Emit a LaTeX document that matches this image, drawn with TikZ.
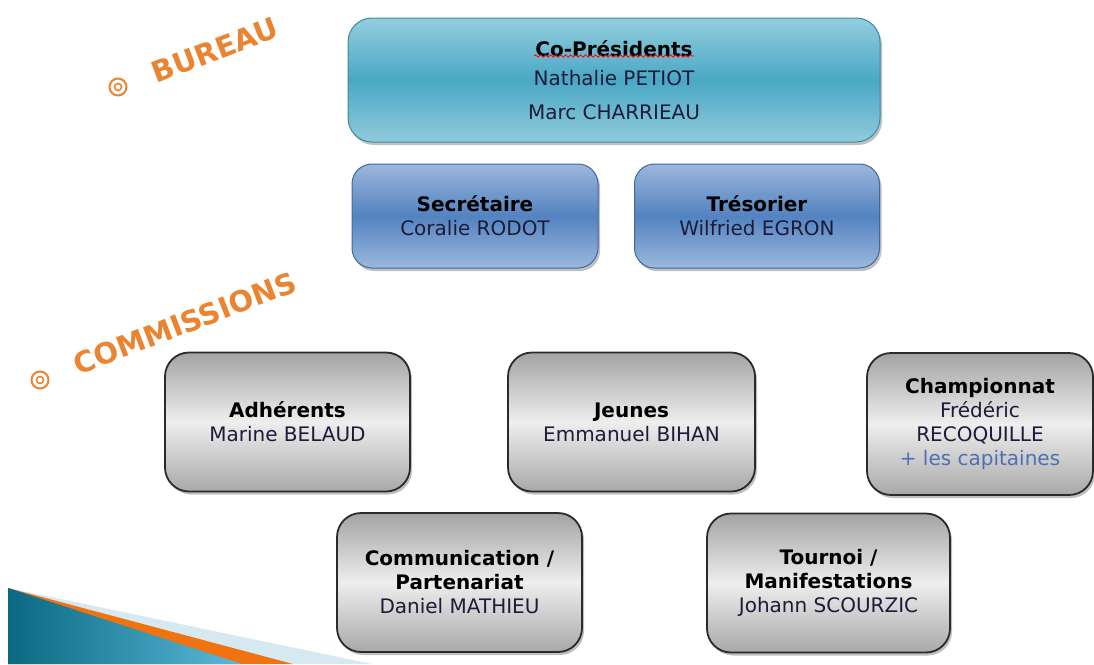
\documentclass[tikz,border=0pt]{standalone}
\usepackage{fontspec}
\setmainfont{DejaVu Sans}
\usetikzlibrary{shadows,decorations.pathmorphing}
\definecolor{cptop}{HTML}{93CDDE}
\definecolor{cpmid}{HTML}{4AA8C4}
\definecolor{cpbot}{HTML}{90CADB}
\definecolor{cpline}{HTML}{3A8AA3}
\definecolor{sbtop}{HTML}{9BB7DD}
\definecolor{sbmid}{HTML}{5383C0}
\definecolor{sbbot}{HTML}{9CB8DD}
\definecolor{sbline}{HTML}{3F67A0}
\definecolor{gtop}{HTML}{A3A3A3}
\definecolor{gmid}{HTML}{EEEEEE}
\definecolor{gbot}{HTML}{A8A8A8}
\definecolor{gline}{HTML}{2A2A2A}
\definecolor{namec}{HTML}{1C1C3A}
\definecolor{capc}{HTML}{4F6FB5}
\definecolor{orangec}{HTML}{EA8431}
\definecolor{decoteal}{HTML}{0A6882}
\definecolor{decoteall}{HTML}{5BBAD9}
\definecolor{decoorange}{HTML}{F07310}
\definecolor{decolight}{HTML}{D6E9F1}
\begin{document}
\begin{tikzpicture}[x=1pt,y=-1pt,
  box/.style={rounded corners=24pt, align=center, inner sep=0pt,
    font=\fontsize{20}{24}\selectfont,
    drop shadow={shadow xshift=2pt, shadow yshift=-3pt, opacity=0.5}},
  cpbox/.style={box, draw=cpline, line width=1pt, top color=cptop, bottom color=cpbot, middle color=cpmid},
  sbbox/.style={box, rounded corners=20pt, draw=sbline, line width=1pt, top color=sbtop, bottom color=sbbot, middle color=sbmid,
    minimum width=246pt, minimum height=104pt},
  graybox/.style={box, draw=gline, line width=1.8pt, top color=gtop, bottom color=gbot, middle color=gmid,
    minimum width=245pt, minimum height=139pt},
  section/.style={text=orangec, font=\bfseries\fontsize{29}{29}\selectfont, rotate=21, inner sep=0pt},
  bullet/.style={circle, draw=orangec, line width=2pt, inner sep=0pt},
  wavy/.style={draw=red, line width=0.8pt, decorate, decoration={snake, amplitude=1.2pt, segment length=5pt}}
]
\useasboundingbox (0,0) rectangle (1094,664);

% bottom-left decoration
\fill[decolight] (8,588) -- (372,664) -- (8,664) -- cycle;
\fill[decoorange] (8,588) -- (293,664) -- (8,664) -- cycle;
\shade[left color=decoteal, right color=decoteall] (8,588) -- (242,664) -- (8,664) -- cycle;

% section titles
\node[bullet, minimum size=17pt] (b1) at (118,87) {};
\node[bullet, minimum size=7pt, line width=1.6pt] (b1i) at (b1.center) {};
\node[section] (bureau) at (215,50) {BUREAU};
\node[bullet, minimum size=17pt] (b2) at (40,380) {};
\node[bullet, minimum size=7pt, line width=1.6pt] (b2i) at (b2.center) {};
\node[section] (commissions) at (185,323) {COMMISSIONS};

% bureau
\node[cpbox, minimum width=532pt, minimum height=124pt] (copres) at (614,80)
  {\textbf{Co-Présidents}\\[5pt]
   \textcolor{namec}{Nathalie PETIOT}\\[10pt]
   \textcolor{namec}{Marc CHARRIEAU}};
\coordinate (wl) at (534,56);
\coordinate (wr) at (694,56);
\draw[wavy] (wl) -- (wr);
\node[sbbox] (sec) at (475,216) {\textbf{Secrétaire}\\ \textcolor{namec}{Coralie RODOT}};
\node[sbbox, minimum width=245pt] (tres) at (757,216) {\textbf{Trésorier}\\ \textcolor{namec}{Wilfried EGRON}};

% commissions
\node[graybox] (adh) at (287.5,422) {\textbf{Adhérents}\\ \textcolor{namec}{Marine BELAUD}};
\node[graybox, minimum width=247pt] (jeunes) at (631.5,422) {\textbf{Jeunes}\\ \textcolor{namec}{Emmanuel BIHAN}};
\node[graybox, minimum width=226pt, minimum height=142pt] (champ) at (980,424)
  {\textbf{Championnat}\\ \textcolor{namec}{Frédéric}\\ \textcolor{namec}{RECOQUILLE}\\ \textcolor{capc}{+ les capitaines}};
\node[graybox] (comm) at (459.5,582.5) {\textbf{Communication /}\\ \textbf{Partenariat}\\ \textcolor{namec}{Daniel MATHIEU}};
\node[graybox, minimum width=243pt] (tournoi) at (828.5,583) {\textbf{Tournoi /}\\ \textbf{Manifestations}\\ \textcolor{namec}{Johann SCOURZIC}};
\end{tikzpicture}
\end{document}
